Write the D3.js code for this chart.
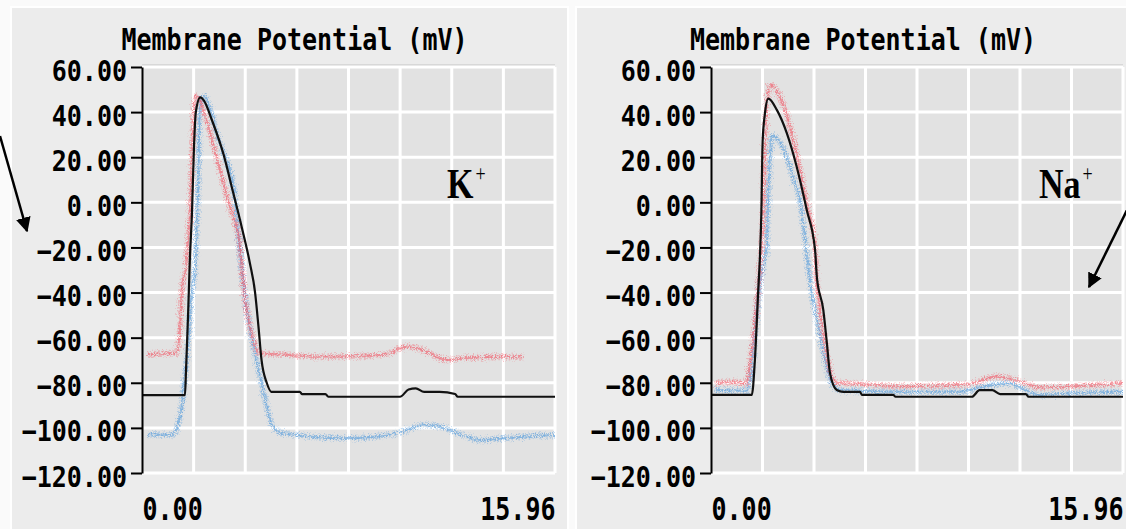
<!DOCTYPE html>
<html>
<head>
<meta charset="utf-8">
<script src="https://cdn.jsdelivr.net/npm/d3@7"></script>
<style>
  html, body { margin: 0; padding: 0; background: #fafafa; }
  svg { display: block; }
</style>
</head>
<body>
<div id="chart"></div>
<script>
// Two membrane potential traces (K+ and Na+ panels)

const W = 1126, H = 529;

// axis values
const xMax = 15.96;
const yTicks = [60, 40, 20, 0, -20, -40, -60, -80, -100, -120];
const xTickLabels = [0, 15.96];
const titleText = "Membrane Potential (mV)";

// K+ panel: [time, mV]
const kBlack = [
  [0, -85.5], [1.66, -85.5], [1.70, -75], [1.78, -50], [1.85, -25], [1.93, -5],
  [2.01, 25], [2.08, 40], [2.25, 46.5], [2.40, 45], [2.70, 36.5], [3.14, 21.7], [3.53, 4],
  [3.85, -10.8], [4.17, -27], [4.37, -40], [4.50, -55], [4.62, -70], [4.82, -80],
  [5.00, -84], [6.10, -84], [6.18, -85], [7.09, -85], [7.20, -86.2], [9.97, -86.2],
  [10.30, -83], [10.58, -82.5], [10.90, -84], [11.50, -84], [12.10, -85],
  [12.20, -86.2], [15.96, -86.2]
];
const kRed = [
  [0.23, -67.5], [0.70, -67], [1.34, -66.8], [1.47, -55], [1.53, -40], [1.73, -25.6],
  [1.85, -5], [1.96, 27.6], [2.05, 47], [2.11, 47], [2.56, 33.5], [3.01, 14.3],
  [3.40, -2], [3.79, -19.7], [3.86, -30], [4.05, -47.7], [4.30, -61], [4.56, -67],
  [5.45, -67.5], [6.88, -68.5], [9.31, -67.7], [10.23, -64], [10.74, -65],
  [11.77, -69.9], [12.55, -69], [13.83, -68.5], [14.73, -68.7]
];
const kBlue = [
  [0.23, -103], [1.21, -103], [1.40, -98], [1.53, -90.6], [1.66, -77.3], [1.79, -62.5],
  [1.92, -40.2], [2.05, -28.5], [2.11, -10.8], [2.18, 11.4], [2.21, 33.5], [2.27, 46],
  [2.36, 47], [3.01, 26], [3.53, 7], [3.79, -22], [4.05, -47.7], [4.30, -64],
  [4.56, -77], [4.82, -90.6], [5.07, -99.5], [5.46, -102.4], [7.91, -104.6],
  [9.84, -102.4], [11.00, -98.7], [11.51, -99.4], [12.55, -103.9], [13.06, -105.4],
  [14.61, -104], [15.96, -103.2]
];

// Na+ panel: [time, mV]
const naBlack = [
  [0, -85.4], [1.58, -85.4], [1.70, -70], [1.83, -39], [1.90, -23], [1.95, -5],
  [2.00, 27], [2.09, 39.5], [2.22, 46], [2.55, 41], [2.94, 30.6], [3.32, 15.8],
  [3.71, -3.4], [4.03, -21], [4.10, -33], [4.35, -47.7], [4.49, -62.5], [4.61, -75.8],
  [4.87, -83.2], [5.13, -84], [5.77, -84], [5.85, -85.4], [7.06, -85.4], [7.15, -86.2],
  [10.11, -86.2], [10.40, -83.3], [10.90, -83.3], [11.20, -85], [12.20, -85],
  [12.30, -86.2], [15.96, -86.2]
];
const naRed = [
  [0.15, -80.2], [0.74, -79.5], [1.38, -80.2], [1.51, -71.4], [1.64, -59.6], [1.77, -44.8],
  [1.90, -28.5], [2.03, -3.4], [2.09, 26], [2.16, 43.6], [2.29, 52], [2.67, 46.8],
  [3.06, 33.5], [3.45, 14.3], [3.71, -0.4], [4.03, -19.7], [4.07, -30], [4.22, -47.7],
  [4.42, -62.5], [4.61, -74.4], [4.87, -80], [5.77, -80.5], [7.32, -81.5], [9.91, -80.8],
  [11.07, -77.3], [11.71, -78.5], [12.75, -82], [14.80, -81], [15.96, -80.2]
];
const naBlue = [
  [0.15, -83.2], [1.38, -83.5], [1.58, -74.4], [1.70, -59.6], [1.83, -43.3], [1.98, -30],
  [2.16, -19.7], [2.22, 4], [2.29, 21.7], [2.35, 29.8], [2.61, 27.6], [2.93, 20.2],
  [3.25, 8.4], [3.45, 1], [3.58, -10.8], [3.71, -22.6], [3.90, -40.3], [4.16, -55],
  [4.42, -70], [4.68, -80.2], [5.00, -83.2], [7.32, -84], [9.52, -84], [10.55, -81.8],
  [11.46, -80.2], [12.75, -85.4], [14.30, -84.5], [15.96, -84]
];

const panels = [
  { frame: [11, 7, 557], plot: [142, 555], ion: "K", labelX: 447,
    black: kBlack, red: kRed, blue: kBlue },
  { frame: [576, 7, 560], plot: [711, 1123], ion: "Na", labelX: 1039,
    black: naBlack, red: naRed, blue: naBlue }
];

const plotTop = 67, plotBottom = 473;
const mono = "'DejaVu Sans Mono', 'Liberation Mono', monospace";

const svg = d3.select("#chart").append("svg")
  .attr("width", W).attr("height", H);

const defs = svg.append("defs");

// rough, speckled look for the recorded traces
const noise = defs.append("filter").attr("id", "noise")
  .attr("x", "-5%").attr("y", "-5%").attr("width", "110%").attr("height", "110%");
noise.append("feTurbulence").attr("type", "fractalNoise")
  .attr("baseFrequency", 0.9).attr("numOctaves", 1).attr("seed", 4).attr("result", "t");
noise.append("feDisplacementMap").attr("in", "SourceGraphic").attr("in2", "t")
  .attr("scale", 8).attr("xChannelSelector", "R").attr("yChannelSelector", "G");

defs.append("marker").attr("id", "arrow")
  .attr("viewBox", "0 0 10 10").attr("refX", 9).attr("refY", 5)
  .attr("markerWidth", 6).attr("markerHeight", 6).attr("orient", "auto")
  .append("path").attr("d", "M0,0 L10,5 L0,10 z").attr("fill", "#000");

svg.append("rect").attr("width", W).attr("height", H).attr("fill", "#fafafa");

const y = d3.scaleLinear().domain([-120, 60]).range([plotBottom, plotTop]);

panels.forEach((p, i) => {
  const [fx, fy, fw] = p.frame;
  svg.append("rect")
    .attr("x", fx).attr("y", fy).attr("width", fw).attr("height", H)
    .attr("fill", "#ececec").attr("stroke", "#ffffff").attr("stroke-width", 2);

  const x = d3.scaleLinear().domain([0, xMax]).range(p.plot);
  const g = svg.append("g");
  const clipId = "clip" + i;

  defs.append("clipPath").attr("id", clipId)
    .append("rect")
    .attr("x", p.plot[0]).attr("y", plotTop - 2)
    .attr("width", p.plot[1] - p.plot[0]).attr("height", plotBottom - plotTop + 2);

  // plot background
  g.append("rect")
    .attr("x", p.plot[0]).attr("y", plotTop - 2)
    .attr("width", p.plot[1] - p.plot[0]).attr("height", plotBottom - plotTop + 2)
    .attr("fill", "#e2e2e2");
  g.append("line")
    .attr("x1", p.plot[0]).attr("x2", p.plot[1])
    .attr("y1", plotTop - 2).attr("y2", plotTop - 2)
    .attr("stroke", "#c4c4c4").attr("stroke-width", 1);

  // grid
  const xGrid = d3.range(1, 9).map(k => k * xMax / 8);
  g.append("g").selectAll("line").data(xGrid).join("line")
    .attr("x1", d => x(d)).attr("x2", d => x(d))
    .attr("y1", plotTop).attr("y2", plotBottom)
    .attr("stroke", "#fff").attr("stroke-width", 3);
  g.append("g").selectAll("line").data(yTicks).join("line")
    .attr("x1", p.plot[0]).attr("x2", p.plot[1])
    .attr("y1", d => y(d)).attr("y2", d => y(d))
    .attr("stroke", "#fff").attr("stroke-width", 3);

  // traces
  const line = d3.line()
    .x(d => x(d[0])).y(d => y(d[1]))
    .curve(d3.curveMonotoneX);

  const traces = g.append("g").attr("clip-path", `url(#${clipId})`);
  [[p.blue, "#5a9fdc"], [p.red, "#f0606e"]].forEach(([data, col]) => {
    traces.append("path").datum(data)
      .attr("d", line).attr("fill", "none")
      .attr("stroke", col).attr("stroke-width", 7).attr("stroke-opacity", 0.35)
      .attr("stroke-dasharray", "1.5 2")
      .attr("filter", "url(#noise)");
    traces.append("path").datum(data)
      .attr("d", line).attr("fill", "none")
      .attr("stroke", col).attr("stroke-width", 2).attr("stroke-opacity", 0.6)
      .attr("filter", "url(#noise)");
  });
  traces.append("path").datum(p.black)
    .attr("d", line).attr("fill", "none")
    .attr("stroke", "#111").attr("stroke-width", 2.2)
    .attr("stroke-linejoin", "round");

  // y axis
  const yAxis = g.append("g")
    .attr("transform", `translate(${p.plot[0]},0)`)
    .call(d3.axisLeft(y).tickValues(yTicks).tickFormat(d3.format(".2f"))
      .tickSize(11).tickSizeOuter(0));
  yAxis.select(".domain").attr("stroke", "#000").attr("stroke-width", 2);
  yAxis.selectAll(".tick line").attr("stroke", "#000").attr("stroke-width", 2);
  yAxis.selectAll(".tick text")
    .attr("x", null).attr("dy", null)
    .attr("transform", "translate(-15,13) scale(1,1.14)")
    .attr("fill", "#000")
    .style("font-family", mono).style("font-size", "25px").style("font-weight", "bold");

  // x axis labels
  const xAxis = g.append("g")
    .attr("transform", `translate(0,${plotBottom})`)
    .call(d3.axisBottom(x).tickValues(xTickLabels).tickFormat(d3.format(".2f")).tickSize(0));
  xAxis.select(".domain").remove();
  xAxis.selectAll(".tick text")
    .attr("y", null).attr("dy", null)
    .attr("transform", "translate(0,47) scale(1,1.28)")
    .attr("text-anchor", (d, k) => k === 0 ? "start" : "end")
    .attr("fill", "#000")
    .style("font-family", mono).style("font-size", "25px").style("font-weight", "bold");

  // title
  g.append("text")
    .attr("transform", `translate(${(p.plot[0] + p.plot[1]) / 2 - 54},50) scale(1,1.22)`)
    .attr("text-anchor", "middle")
    .style("font-family", mono).style("font-size", "25px").style("font-weight", "bold")
    .attr("fill", "#000")
    .text(titleText);

  // ion label
  const lab = g.append("text")
    .attr("transform", `translate(${p.labelX},198) scale(1,1.25)`)
    .style("font-family", "'Liberation Serif', 'Times New Roman', serif")
    .style("font-weight", "bold").style("font-size", "34px")
    .attr("fill", "#000");
  lab.append("tspan").text(p.ion);
  lab.append("tspan").attr("dx", 2).attr("dy", -14)
    .style("font-size", "18px").style("font-weight", "normal").text("+");
});

// annotation arrows
const arrows = [
  [[0, 136], [27, 231]],
  [[1132, 200], [1089, 287]]
];
svg.append("g").selectAll("path").data(arrows).join("path")
  .attr("d", d => d3.line()(d))
  .attr("stroke", "#000").attr("stroke-width", 2.5).attr("fill", "none")
  .attr("marker-end", "url(#arrow)");
</script>
</body>
</html>
